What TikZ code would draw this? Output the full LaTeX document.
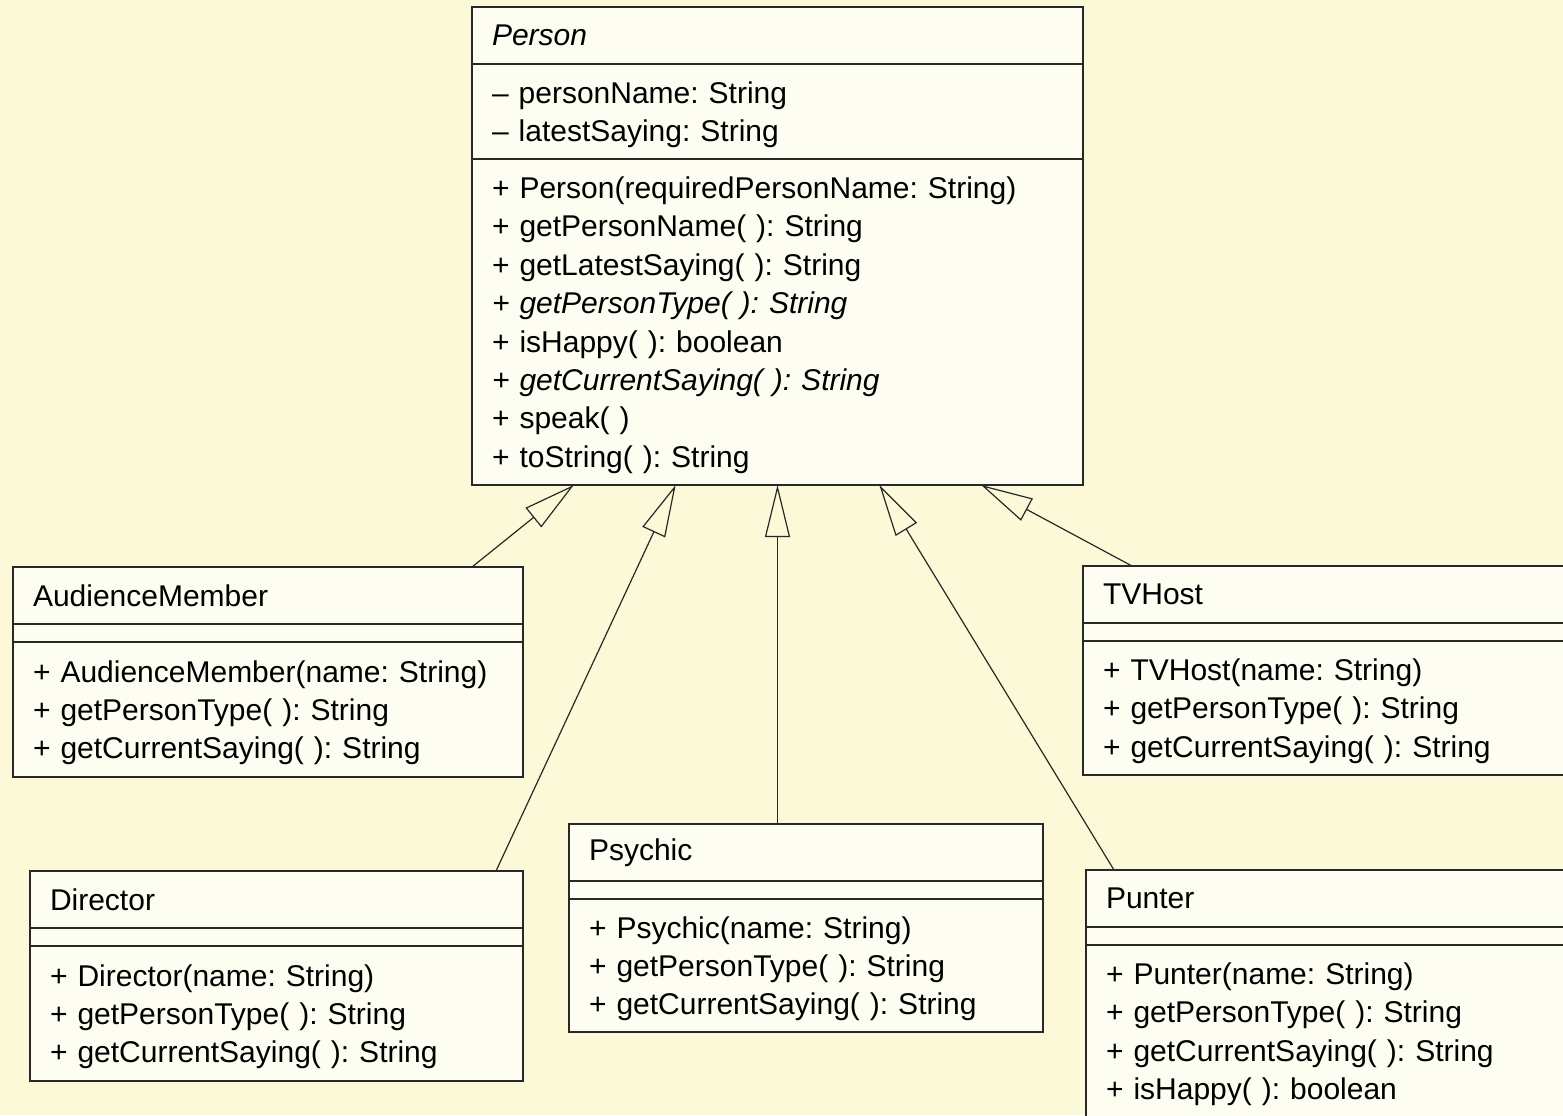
\documentclass[tikz,border=0pt]{standalone}
\usepackage{fontspec}
\setmainfont{Liberation Sans}
\usepackage{xcolor}
\usepackage{tikz}
\usetikzlibrary{arrows.meta,positioning,calc}

\definecolor{pagebg}{RGB}{251,249,216}
\definecolor{boxbg}{RGB}{253,253,241}
\definecolor{umlline}{RGB}{40,40,40}

\begin{document}
\frenchspacing
\begin{tikzpicture}[
  x=0.5pt, y=-0.5pt,
  font=\fontsize{15pt}{19.2pt}\selectfont,
  comp/.style 2 args={draw=umlline, fill=boxbg, line width=0.6pt, align=left, outer sep=0pt,
    inner xsep=10pt, inner ysep=0pt, text width=#1, minimum height=#2},
  members/.style 2 args={comp={#1}{#2}, execute at begin node={\rule{0pt}{14pt}}},
  emptycomp/.style={draw=umlline, fill=boxbg, line width=0.6pt, inner sep=0pt, outer sep=0pt,
    minimum width=#1, minimum height=9pt},
  inherit/.style={-{Triangle[open, length=26pt, width=12.5pt]}, draw=umlline, line width=0.6pt}
]
\useasboundingbox (0,0) rectangle (1563,1115);
\clip (0,0) rectangle (1563,1115);
\fill[pagebg] (0,0) rectangle (1563,1115);

% superclass
\node[comp={285.5pt}{28.5pt}, anchor=north west] (person) at (472,7) {\textit{Person}};
\node[members={285.5pt}{47.5pt}, below=0pt of person] (personAttr) {– personName: String\\– latestSaying: String};
\node[members={285.5pt}{163pt}, below=0pt of personAttr] (personOps) {+ Person(requiredPersonName: String)\\
+ getPersonName( ): String\\
+ getLatestSaying( ): String\\
\textit{+ getPersonType( ): String}\\
+ isHappy( ): boolean\\
\textit{+ getCurrentSaying( ): String}\\
+ speak( )\\
+ toString( ): String};

% subclasses
\node[comp={235pt}{28.5pt}, anchor=north west] (am) at (13,567) {AudienceMember};
\node[emptycomp=255pt, below=0pt of am] (amAttr) {};
\node[members={235pt}{67.5pt}, below=0pt of amAttr] (amOps) {+ AudienceMember(name: String)\\
+ getPersonType( ): String\\
+ getCurrentSaying( ): String};

\node[comp={230pt}{28.5pt}, anchor=north west] (tv) at (1083,566) {TVHost};
\node[emptycomp=250pt, below=0pt of tv] (tvAttr) {};
\node[members={230pt}{67pt}, below=0pt of tvAttr] (tvOps) {+ TVHost(name: String)\\
+ getPersonType( ): String\\
+ getCurrentSaying( ): String};

\node[comp={226.5pt}{28.5pt}, anchor=north west] (dir) at (30,871) {Director};
\node[emptycomp=246.5pt, below=0pt of dir] (dirAttr) {};
\node[members={226.5pt}{67.5pt}, below=0pt of dirAttr] (dirOps) {+ Director(name: String)\\
+ getPersonType( ): String\\
+ getCurrentSaying( ): String};

\node[comp={217pt}{28.5pt}, anchor=north west] (psy) at (569,824) {Psychic};
\node[emptycomp=237pt, below=0pt of psy] (psyAttr) {};
\node[members={217pt}{66.5pt}, below=0pt of psyAttr] (psyOps) {+ Psychic(name: String)\\
+ getPersonType( ): String\\
+ getCurrentSaying( ): String};

\node[comp={230pt}{28.5pt}, anchor=north west] (pun) at (1086,870) {Punter};
\node[emptycomp=250pt, below=0pt of pun] (punAttr) {};
\node[members={230pt}{86pt}, below=0pt of punAttr] (punOps) {+ Punter(name: String)\\
+ getPersonType( ): String\\
+ getCurrentSaying( ): String\\
+ isHappy( ): boolean};

% generalisations
\coordinate (amTop) at ($(am.north west)+(459,0)$);
\coordinate (dirTop) at ($(dir.north west)+(466,0)$);
\coordinate (psyTop) at ($(psy.north west)+(208.5,0)$);
\coordinate (punTop) at ($(pun.north west)+(28,0)$);
\coordinate (tvTop) at ($(tv.north west)+(49,0)$);
\foreach \k/\c in {1/amTop,2/dirTop,3/psyTop,4/punTop,5/tvTop}
  \draw[inherit] (\c) -- ($(personOps.south west)!\k/6!(personOps.south east)$);
\end{tikzpicture}
\end{document}
